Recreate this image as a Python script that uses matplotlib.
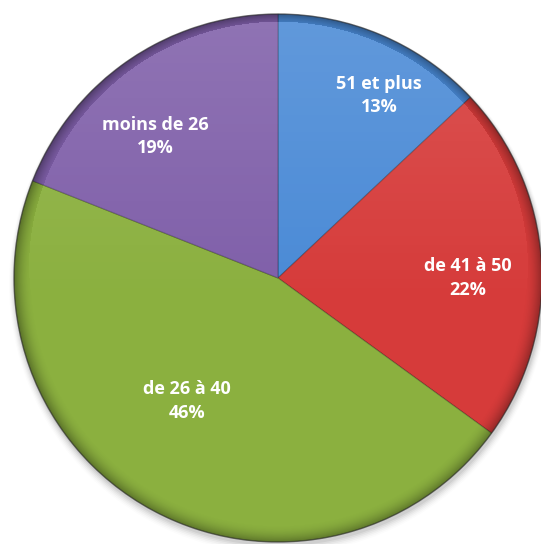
import matplotlib.pyplot as plt
import numpy as np
from matplotlib.patches import Circle

# Données
categories = ['51 et plus', 'de 41 à 50', 'de 26 à 40', 'moins de 26']
values = [13, 22, 46, 19]
colors = ['#4a8ad6', '#d63b3a', '#8bb03f', '#7f5fa9']
# position des étiquettes (fraction du rayon, angle en degrés)
label_pos = [(0.79, 61), (0.72, 0), (0.58, -126.5), (0.71, 131)]

W, H = 541, 544
cx, cy, R = 278, 544 - 278, 264

fig = plt.figure(figsize=(W / 100, H / 100), dpi=100)
ax = fig.add_axes([0, 0, 1, 1])

# ombre douce
for i, a in enumerate(np.linspace(0.05, 0.01, 6)):
    ax.add_patch(Circle((cx + 1, cy - 3 - i * 0.6), R + 1 + i, color='black',
                        alpha=a, lw=0, zorder=0))

wedges, _ = ax.pie(values, colors=colors, startangle=90, counterclock=False,
                   center=(cx, cy), radius=R, frame=True,
                   wedgeprops=dict(edgecolor=(0, 0, 0, 0.25), linewidth=0.8))
ax.set_xlim(0, W)
ax.set_ylim(0, H)
ax.set_aspect('equal')
ax.axis('off')

# dégradé : léger reflet en haut, bord assombri
yy, xx = np.mgrid[0:H, 0:W]
dx = (xx - cx) / R
dy = ((H - yy) - cy) / R
rr = np.sqrt(dx ** 2 + dy ** 2)
shade = np.zeros((H, W, 4))
light = np.clip(0.12 * (dy + 0.1), 0, None)
dark = np.clip((rr - 0.93) / 0.07, 0, 1) ** 2 * 0.35
shade[..., :3] = np.where(light[..., None] > dark[..., None], 1.0, 0.0)
shade[..., 3] = np.maximum(light, dark)
img = ax.imshow(shade, extent=(0, W, 0, H), origin='upper', zorder=3,
                interpolation='bilinear')
img.set_clip_path(Circle((cx, cy), R, transform=ax.transData))
ax.set_xlim(0, W)
ax.set_ylim(0, H)

# rebord
ax.add_patch(Circle((cx, cy), R, fill=False, edgecolor=(0.2, 0.2, 0.2, 0.5),
                    lw=1.0, zorder=4))

for cat, v, (f, ang) in zip(categories, values, label_pos):
    x = cx + f * R * np.cos(np.radians(ang))
    y = cy + f * R * np.sin(np.radians(ang))
    ax.text(x, y, f'{cat}\n{v}%', ha='center', va='center', color='white',
            fontsize=13, fontweight='bold', family='Open Sans',
            linespacing=1.4, zorder=5)

fig.savefig('out.png', dpi=100)
